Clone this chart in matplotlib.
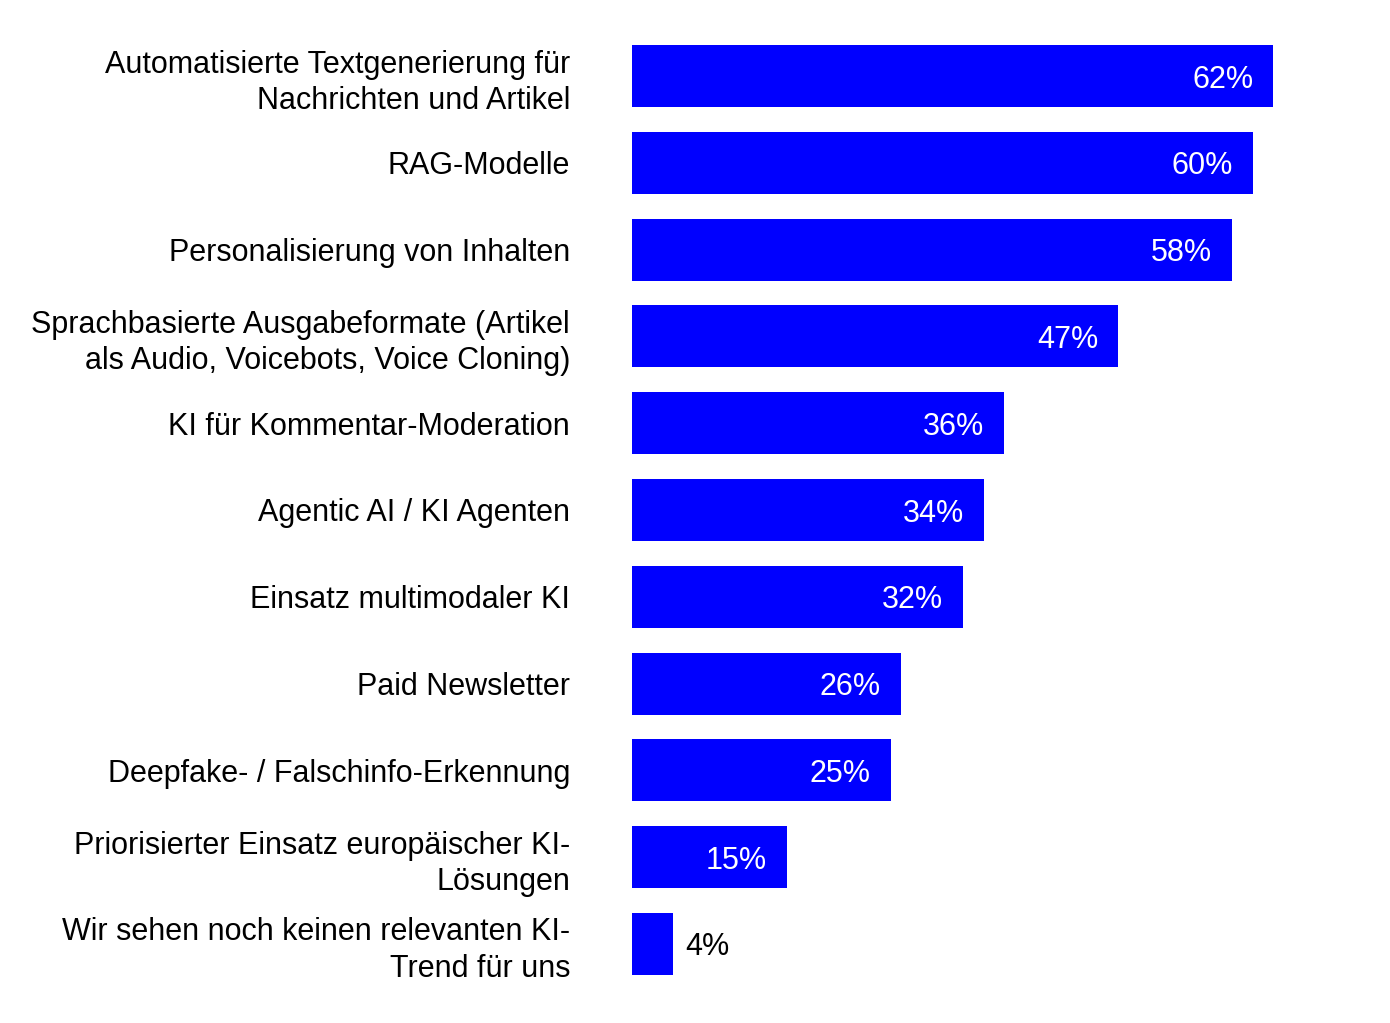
import matplotlib
matplotlib.use("Agg")
import matplotlib.pyplot as plt
from matplotlib.transforms import offset_copy

plt.rcParams['font.family'] = ['Liberation Sans', 'DejaVu Sans']

labels = [
    "Automatisierte Textgenerierung für\nNachrichten und Artikel",
    "RAG-Modelle",
    "Personalisierung von Inhalten",
    "Sprachbasierte Ausgabeformate (Artikel\nals Audio, Voicebots, Voice Cloning)",
    "KI für Kommentar-Moderation",
    "Agentic AI / KI Agenten",
    "Einsatz multimodaler KI",
    "Paid Newsletter",
    "Deepfake- / Falschinfo-Erkennung",
    "Priorisierter Einsatz europäischer KI-\nLösungen",
    "Wir sehen noch keinen relevanten KI-\nTrend für uns",
]
values = [62, 60, 58, 47, 36, 34, 32, 26, 25, 15, 4]

fig = plt.figure(figsize=(13.9, 10.23), dpi=100)
ax = fig.add_axes([632 / 1390, 27 / 1023, 724 / 1390, 972 / 1023])

ypos = list(range(len(values)))
ax.barh(ypos, values, height=0.714, color="#0000FF")
ax.set_xlim(0, 70)
ax.set_ylim(len(values) - 0.4, -0.6)

ax.set_yticks(ypos)
ax.set_yticklabels(labels, fontsize=22, linespacing=1.27)
ax.tick_params(axis='y', length=0, pad=44.6)
ax.set_xticks([])
for s in ax.spines.values():
    s.set_visible(False)

inside = offset_copy(ax.transData, fig=fig, x=-20, y=0, units='dots')
outside = offset_copy(ax.transData, fig=fig, x=12, y=0, units='dots')
for y, v in zip(ypos, values):
    if v >= 10:
        ax.text(v, y, f"{v}%", transform=inside, ha='right', va='center_baseline',
                color='white', fontsize=22)
    else:
        ax.text(v, y, f"{v}%", transform=outside, ha='left', va='center_baseline',
                color='black', fontsize=22)

fig.savefig("out.png", dpi=100)
